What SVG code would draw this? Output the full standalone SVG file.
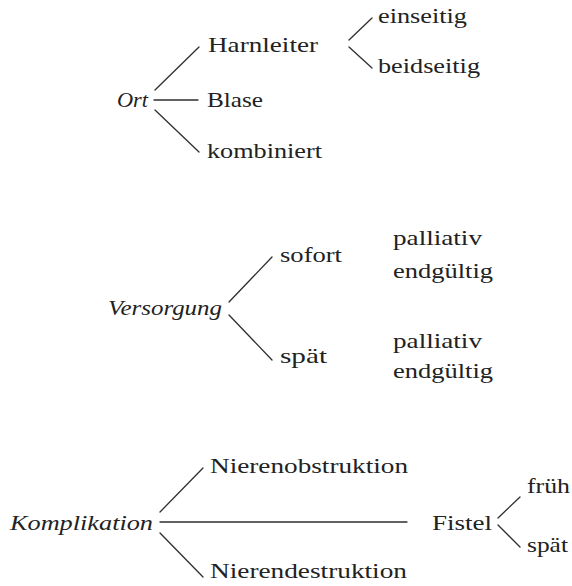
<svg xmlns="http://www.w3.org/2000/svg" width="572" height="586" viewBox="0 0 572 586">
  <style>
    .edge { stroke: #2f2f2f; stroke-width: 1.3; fill: none; stroke-linecap: round; }
  </style>
  <rect width="572" height="586" fill="#ffffff"/>

  <!-- connectors -->
  <g id="connectors">
    <!-- Ort -->
    <line class="edge" x1="155" y1="90" x2="199" y2="47"/>
    <line class="edge" x1="154" y1="100" x2="198" y2="100"/>
    <line class="edge" x1="155" y1="110" x2="199" y2="152"/>
    <!-- Harnleiter -->
    <line class="edge" x1="349" y1="40" x2="372" y2="18"/>
    <line class="edge" x1="349" y1="47" x2="372" y2="68"/>
    <!-- Versorgung -->
    <line class="edge" x1="229" y1="302" x2="272" y2="257"/>
    <line class="edge" x1="229" y1="315" x2="272" y2="360"/>
    <!-- Komplikation -->
    <line class="edge" x1="160" y1="512" x2="203" y2="468"/>
    <line class="edge" x1="160" y1="522" x2="407" y2="522"/>
    <line class="edge" x1="160" y1="533" x2="203" y2="577"/>
    <!-- Fistel -->
    <line class="edge" x1="498" y1="518" x2="520" y2="497"/>
    <line class="edge" x1="498" y1="525" x2="520" y2="547"/>
  </g>

  <g id="labels" font-family="Liberation Serif" font-size="22" fill="#222222">
    <!-- Ort tree -->
    <g id="ort"><text font-style="italic" x="117" y="107" textLength="31" lengthAdjust="spacingAndGlyphs">Ort</text></g>
    <g id="harnleiter"><text x="208" y="52" textLength="110" lengthAdjust="spacingAndGlyphs">Harnleiter</text></g>
    <g id="blase"><text x="207" y="107" textLength="56" lengthAdjust="spacingAndGlyphs">Blase</text></g>
    <g id="kombiniert"><text x="207" y="158" textLength="115" lengthAdjust="spacingAndGlyphs">kombiniert</text></g>
    <g id="einseitig"><text x="378" y="23" textLength="89" lengthAdjust="spacingAndGlyphs">einseitig</text></g>
    <g id="beidseitig"><text x="378" y="73" textLength="102" lengthAdjust="spacingAndGlyphs">beidseitig</text></g>

    <!-- Versorgung tree -->
    <g id="versorgung"><text font-style="italic" x="108" y="315" textLength="114" lengthAdjust="spacingAndGlyphs">Versorgung</text></g>
    <g id="sofort"><text x="280" y="262" textLength="62" lengthAdjust="spacingAndGlyphs">sofort</text></g>
    <g id="spaet"><text x="280" y="363" textLength="47" lengthAdjust="spacingAndGlyphs">spät</text></g>
    <g id="palliativ1"><text x="393" y="245" textLength="89" lengthAdjust="spacingAndGlyphs">palliativ</text></g>
    <g id="endgueltig1"><text x="393" y="278" textLength="100" lengthAdjust="spacingAndGlyphs">endgültig</text></g>
    <g id="palliativ2"><text x="393" y="348" textLength="89" lengthAdjust="spacingAndGlyphs">palliativ</text></g>
    <g id="endgueltig2"><text x="393" y="378" textLength="100" lengthAdjust="spacingAndGlyphs">endgültig</text></g>

    <!-- Komplikation tree -->
    <g id="komplikation"><text font-style="italic" x="10" y="530" textLength="143" lengthAdjust="spacingAndGlyphs">Komplikation</text></g>
    <g id="nierenobstruktion"><text x="210" y="473" textLength="198" lengthAdjust="spacingAndGlyphs">Nierenobstruktion</text></g>
    <g id="nierendestruktion"><text x="210" y="578" textLength="197" lengthAdjust="spacingAndGlyphs">Nierendestruktion</text></g>
    <g id="fistel"><text x="432" y="530" textLength="60" lengthAdjust="spacingAndGlyphs">Fistel</text></g>
    <g id="frueh"><text x="527" y="493" textLength="43" lengthAdjust="spacingAndGlyphs">früh</text></g>
    <g id="spaet2"><text x="527" y="552" textLength="41" lengthAdjust="spacingAndGlyphs">spät</text></g>
  </g>
</svg>
